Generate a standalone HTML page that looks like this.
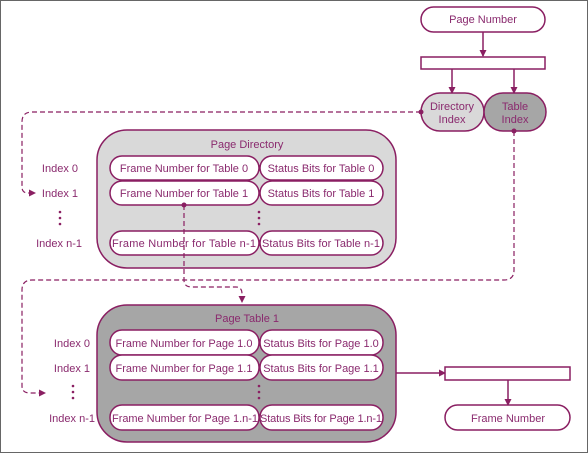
<!DOCTYPE html>
<html><head><style>body{margin:0}svg{display:block}text{font-family:"Liberation Sans",sans-serif;font-size:11px;fill:#8a2a6e}</style></head><body>
<svg width="588" height="453" viewBox="0 0 588 453">
<defs><marker id="a" markerWidth="7" markerHeight="7" refX="6" refY="3.5" orient="auto" markerUnits="userSpaceOnUse"><path d="M0,0 L7,3.5 L0,7 Z" fill="#8a1f62"/></marker></defs>
<rect x="0.5" y="0.5" width="587" height="452" fill="#fff" stroke="#666"/>
<g stroke="#8a1f62" stroke-width="1.5" fill="none">
<rect x="421" y="7" width="124" height="25" rx="12.5" fill="#fff"/>
<line x1="483" y1="32" x2="483" y2="56" marker-end="url(#a)"/>
<rect x="421" y="57" width="124" height="12" fill="#fff"/>
<line x1="452" y1="69" x2="452" y2="93" marker-end="url(#a)"/>
<line x1="514" y1="69" x2="514" y2="93" marker-end="url(#a)"/>
<rect x="421" y="93" width="63" height="38" rx="19" fill="#d9d9d9"/>
<rect x="484" y="93" width="62" height="38" rx="19" fill="#a6a6a6"/>
<rect x="97" y="130" width="299" height="138" rx="30" fill="#d9d9d9"/>
<rect x="97" y="305" width="299" height="137" rx="30" fill="#a6a6a6"/>
<g fill="#fff">
<rect x="110" y="156" width="149" height="24" rx="12"/><rect x="260" y="156" width="123" height="24" rx="12"/>
<rect x="110" y="181" width="149" height="24" rx="12"/><rect x="260" y="181" width="123" height="24" rx="12"/>
<rect x="110" y="231" width="149" height="24" rx="12"/><rect x="260" y="231" width="123" height="24" rx="12"/>
<rect x="110" y="330" width="149" height="25" rx="12"/><rect x="260" y="330" width="123" height="25" rx="12"/>
<rect x="110" y="355" width="149" height="25" rx="12"/><rect x="260" y="355" width="123" height="25" rx="12"/>
<rect x="110" y="405" width="149" height="25" rx="12"/><rect x="260" y="405" width="123" height="25" rx="12"/>
</g>
<g stroke-dasharray="5,3" stroke-width="1.2">
<path d="M421,112 H32 Q22,112 22,122 V187 Q22,193 28,193 H35" marker-end="url(#a)"/>
<path d="M514,131 V270 Q514,280 504,280 H32 Q22,280 22,290 V386 Q22,393 30,393 H45" marker-end="url(#a)"/>
<path d="M184,205 V280 Q184,287 192,287 H236 Q242,287 242,294 V302" marker-end="url(#a)"/>
</g>
<line x1="396" y1="373" x2="445" y2="373" marker-end="url(#a)"/>
<rect x="445" y="367" width="125" height="13" fill="#fff"/>
<line x1="508" y1="380" x2="508" y2="405" marker-end="url(#a)"/>
<rect x="445" y="405" width="125" height="25" rx="12.5" fill="#fff"/>
</g>
<g fill="#8a1f62">
<circle cx="421" cy="112" r="2.5"/><circle cx="514" cy="131" r="2.5"/><circle cx="184" cy="205" r="2.5"/>
<circle cx="60" cy="212" r="1.3"/><circle cx="60" cy="218" r="1.3"/><circle cx="60" cy="224" r="1.3"/>
<circle cx="259" cy="212" r="1.3"/><circle cx="259" cy="218" r="1.3"/><circle cx="259" cy="224" r="1.3"/>
<circle cx="73" cy="386" r="1.3"/><circle cx="73" cy="392" r="1.3"/><circle cx="73" cy="398" r="1.3"/>
<circle cx="259" cy="386" r="1.3"/><circle cx="259" cy="392" r="1.3"/><circle cx="259" cy="398" r="1.3"/>
</g>
<g text-anchor="middle">
<text x="483" y="23">Page Number</text>
<text x="452" y="110">Directory</text><text x="452" y="123">Index</text>
<text x="515" y="110">Table</text><text x="515" y="123">Index</text>
<text x="247" y="148">Page Directory</text>
<text x="184" y="172">Frame Number for Table 0</text><text x="321" y="172">Status Bits for Table 0</text>
<text x="184" y="197">Frame Number for Table 1</text><text x="321" y="197">Status Bits for Table 1</text>
<text x="184" y="247" textLength="144">Frame Number for Table n-1</text><text x="321" y="247" textLength="118">Status Bits for Table n-1</text>
<text x="247" y="322">Page Table 1</text>
<text x="184" y="347">Frame Number for Page 1.0</text><text x="321" y="347">Status Bits for Page 1.0</text>
<text x="184" y="372">Frame Number for Page 1.1</text><text x="321" y="372">Status Bits for Page 1.1</text>
<text x="185" y="422" textLength="146">Frame Number for Page 1.n-1</text><text x="321" y="422" textLength="122">Status Bits for Page 1.n-1</text>
<text x="508" y="422">Frame Number</text>
</g>
<g text-anchor="end">
<text x="78" y="172">Index 0</text><text x="78" y="197">Index 1</text><text x="82" y="247">Index n-1</text>
<text x="90" y="347">Index 0</text><text x="90" y="372">Index 1</text><text x="95" y="422">Index n-1</text>
</g>
</svg>
</body></html>
